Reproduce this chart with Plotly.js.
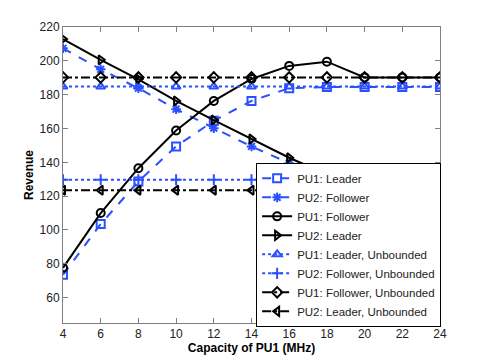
<!DOCTYPE html>
<html>
<head>
<meta charset="utf-8">
<script src="https://cdn.plot.ly/plotly-3.0.1.min.js"></script>
<style>
  html, body { margin: 0; padding: 0; background: #fff; }
  #chart { width: 485px; height: 364px; }
</style>
</head>
<body>
<div id="chart"></div>
<script>
// capacity of PU1 (MHz)
const capacity = [4, 6, 8, 10, 12, 14, 16, 18, 20, 22, 24];

// revenue curves
const pu1Leader   = [73.5, 103.5, 128.7, 149.4, 164.5, 176.3, 183.8, 184.5, 184.5, 184.5, 184.5];
const pu2Follower = [207.4, 195, 183.8, 171.4, 160.2, 149.4, 139.5, 130.2, 129.7, 129.7, 129.7];
const pu1Follower = [77.6, 110, 136.5, 158.8, 176.3, 189.3, 197, 199.5, 190.2, 190.2, 190.2];
const pu2Leader   = [212.9, 200.6, 189.1, 176.3, 165, 153.8, 142.7, 132.8, 123.5, 123.5, 123.5];

// unbounded cases (flat)
const pu1LeaderUnb   = [184.8, 184.8, 184.8, 184.8, 184.8, 184.8, 184.8, 184.8, 184.8, 184.8, 184.8];
const pu2FollowerUnb = [129.7, 129.7, 129.7, 129.7, 129.7, 129.7, 129.7, 129.7, 129.7, 129.7, 129.7];
const pu1FollowerUnb = [190.2, 190.2, 190.2, 190.2, 190.2, 190.2, 190.2, 190.2, 190.2, 190.2, 190.2];
const pu2LeaderUnb   = [123.5, 123.5, 123.5, 123.5, 123.5, 123.5, 123.5, 123.5, 123.5, 123.5, 123.5];

const xTicks = [4, 6, 8, 10, 12, 14, 16, 18, 20, 22, 24];
const yTicks = [60, 80, 100, 120, 140, 160, 180, 200, 220];

const BLUE = '#2a50ff';
const BLACK = '#000';

function series(name, y, color, dash, symbol) {
  return {
    name: name, x: capacity, y: y,
    mode: 'lines+markers',
    line: { color: color, width: 2, dash: dash },
    marker: { symbol: symbol, size: 8, color: color, line: { color: color, width: 2 } }
  };
}

const traces = [
  series('PU1: Leader', pu1Leader, BLUE, 'dash', 'square-open'),
  series('PU2: Follower', pu2Follower, BLUE, 'dash', 'asterisk-open'),
  series('PU1: Follower', pu1Follower, BLACK, 'solid', 'circle-open'),
  series('PU2: Leader', pu2Leader, BLACK, 'solid', 'triangle-right-open'),
  series('PU1: Leader, Unbounded', pu1LeaderUnb, BLUE, 'dot', 'triangle-up-open'),
  series('PU2: Follower, Unbounded', pu2FollowerUnb, BLUE, 'dot', 'cross-thin-open'),
  series('PU1: Follower, Unbounded', pu1FollowerUnb, BLACK, 'dashdot', 'diamond-open'),
  series('PU2: Leader, Unbounded', pu2LeaderUnb, BLACK, 'dashdot', 'triangle-left-open')
];

const axisCommon = {
  showgrid: false, zeroline: false,
  showline: true, linecolor: '#808080', linewidth: 1, mirror: 'ticks',
  ticks: 'inside', ticklen: 5, tickcolor: '#808080',
  tickfont: { family: 'Liberation Sans, Arial, sans-serif', size: 12, color: '#222' }
};

const layout = {
  width: 485, height: 364,
  margin: { l: 63, r: 45, t: 27, b: 41 },
  paper_bgcolor: '#fff', plot_bgcolor: '#fff',
  font: { family: 'Liberation Sans, Arial, sans-serif', color: '#000' },
  xaxis: Object.assign({}, axisCommon, {
    range: [4, 24], tickvals: xTicks, ticktext: xTicks.map(String),
    title: { text: '<b>Capacity of PU1 (MHz)</b>', font: { size: 12 }, standoff: 3 }
  }),
  yaxis: Object.assign({}, axisCommon, {
    range: [45, 220], tickvals: yTicks, ticktext: yTicks.map(String),
    title: { text: '<b>Revenue</b>', font: { size: 12 }, standoff: 3 }
  }),
  showlegend: true,
  legend: {
    x: 1.003, y: -0.013, xanchor: 'right', yanchor: 'bottom',
    bgcolor: '#fff', bordercolor: '#000', borderwidth: 1,
    font: { size: 11.5, color: '#222' },
    tracegroupgap: 0
  }
};

Plotly.newPlot('chart', traces, layout, { displayModeBar: false, staticPlot: true });
</script>
</body>
</html>
